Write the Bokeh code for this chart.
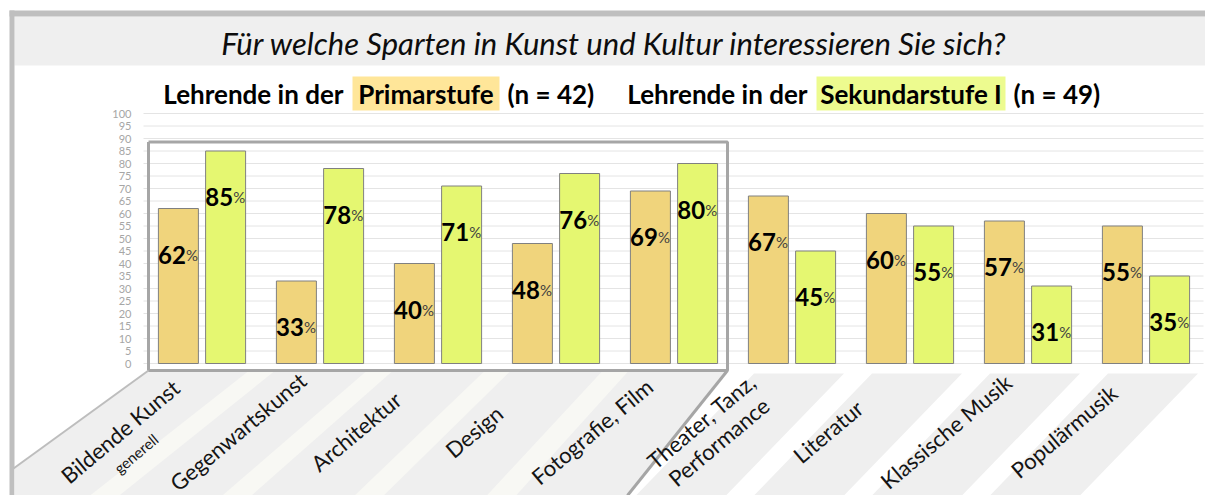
import math
from bokeh.plotting import figure
from bokeh.models import Range1d, LinearAxis, FixedTicker, ColumnDataSource
from bokeh.core.properties import value
from bokeh.embed import file_html
from bokeh.resources import INLINE

# ---------------- data ----------------
categories = ["Bildende Kunst", "Gegenwartskunst", "Architektur", "Design",
              "Fotografie, Film", "Theater, Tanz,\nPerformance", "Literatur",
              "Klassische Musik", "Populärmusik"]
sublabels = ["generell", "", "", "", "", "", "", "", ""]
primarstufe = [62, 33, 40, 48, 69, 67, 60, 57, 55]
sekundarstufe = [85, 78, 71, 76, 80, 45, 55, 31, 35]
y_ticks = list(range(0, 101, 5))
group_names = ["Primarstufe", "Sekundarstufe I"]
group_n = [42, 49]
legend_prefix = "Lehrende in der"
title_text = "Für welche Sparten in Kunst und Kultur interessieren Sie sich?"
n_framed = 5  # first categories inside the highlighted box

# ---------------- layout helpers ----------------
W, H = 1205, 495
CAT0, CAT_STEP = 201.5, 118.0   # px of category 0 centre, px per category
Y_ZERO, Y_UNIT = 363.0, 2.5     # px of value 0, px per percent


def X(px):
    return (px - CAT0) / CAT_STEP


def Y(py):
    return (Y_ZERO - py) / Y_UNIT


FONT = value("Lato")
ORANGE = "#f0d47c"
GREEN = "#e5f771"
HL_ORANGE = "#ffe699"
HL_GREEN = "#edfb8f"
BAND = "#efefef"
LIGHT = "#f8f8f4"
FRAME = "#a6a6a6"

p = figure(width=W, height=H, output_backend="svg", toolbar_location=None,
           x_range=Range1d(X(0), X(W)), y_range=Range1d(Y(H), Y(0)),
           x_axis_location=None, y_axis_location=None,
           min_border=0, min_border_left=0, min_border_right=0,
           min_border_top=0, min_border_bottom=0)
p.outline_line_color = None
p.xgrid.visible = False
p.ygrid.visible = False
p.background_fill_color = "white"
p.border_fill_color = "white"

# title band and outer frame
p.quad(left=X(14), right=X(W), top=Y(16), bottom=Y(65), fill_color=BAND, line_color=None)
p.quad(left=[X(9), X(9)], right=[X(W), X(14)], top=[Y(10), Y(10)], bottom=[Y(16), Y(H)],
       fill_color="#bfbfbf", line_color=None)

# floor of the highlighted box (perspective) with light stripes
fl_y0, fl_y1 = Y(371), Y(H)
p.patch(x=[X(147), X(727), X(627), X(14), X(14)],
        y=[fl_y0, fl_y0, fl_y1, fl_y1, Y(468)], fill_color=BAND, line_color=None)
vpx, vpy = 1554.0, -655.0
sx, sy = [], []
for i in range(n_framed - 1):
    b = CAT0 + CAT_STEP * (i + 0.5)
    xs_top = [b - 13, b + 13]
    xs_bot = [xt + (xt - vpx) / (371 - vpy) * (H - 371) for xt in xs_top]
    sx.append([X(xs_top[0]), X(xs_top[1]), X(xs_bot[1]), X(xs_bot[0])])
    sy.append([fl_y0, fl_y0, fl_y1, fl_y1])
p.patches(xs=sx, ys=sy, fill_color=LIGHT, line_color=None)

# bands under the remaining categories
bx, by = [], []
for i in range(n_framed, len(categories)):
    c = CAT0 + CAT_STEP * i
    top = [c - 38, c + 52]
    bx.append([X(top[0]), X(top[1]), X(top[1] - 118), X(top[0] - 118)])
    by.append([Y(373), Y(373), Y(H), Y(H)])
p.patches(xs=bx, ys=by, fill_color=BAND, line_color=None)

# gridlines
p.segment(x0=X(143), x1=X(1203), y0=y_ticks, y1=y_ticks, line_color="#e4e4e4", line_width=1)

# bars
idx = list(range(len(categories)))
src = ColumnDataSource(dict(
    xp=[i - 0.2 for i in idx], xs=[i + 0.2 for i in idx],
    p=primarstufe, s=sekundarstufe,
    lp=[str(v) for v in primarstufe], ls=[str(v) for v in sekundarstufe],
    yp=[v - 18.4 for v in primarstufe], ys=[v - 18.4 for v in sekundarstufe],
    xlp=[i - 0.2 + 0.064 for i in idx], xls=[i + 0.2 + 0.064 for i in idx],
    pct=["%"] * len(idx),
))
bw = 40 / CAT_STEP
p.vbar(x="xp", top="p", bottom=0, width=bw, source=src, fill_color=ORANGE,
       line_color="#808080", line_width=1)
p.vbar(x="xs", top="s", bottom=0, width=bw, source=src, fill_color=GREEN,
       line_color="#808080", line_width=1)

# highlighted box
fx0, fx1, fy0, fy1 = X(148), X(727), Y(141.5), Y(370)
p.line(x=[fx0, fx1, fx1, fx0, fx0], y=[fy0, fy0, fy1, fy1, fy0], line_color=FRAME, line_width=3)
p.line(x=[fx0, X(13)], y=[fy1, Y(468)], line_color="#bdbdbd", line_width=2)
p.line(x=[fx1, X(627)], y=[fy1, Y(H)], line_color=FRAME, line_width=3)

# value labels
for xcol, ycol, lcol in (("xlp", "yp", "lp"), ("xls", "ys", "ls")):
    p.text(x=xcol, y=ycol, text=lcol, source=src, text_font=FONT, text_font_style="bold",
           text_font_size="24px", text_align="right", text_baseline="alphabetic",
           text_color="#000000")
    p.text(x=xcol, y=ycol, text="pct", source=src, text_font=FONT,
           text_font_size="15px", text_align="left", text_baseline="alphabetic",
           text_color="#404040")

# category labels
ang = math.radians(40)
p.text(x=[i - 82 / CAT_STEP for i in idx], y=[Y(431)] * len(idx), text=categories,
       angle=ang, text_font=FONT, text_font_size="22px", text_align="center",
       text_baseline="middle", text_color="#141414", text_line_height=1.0)
sub_i = [i for i, s in enumerate(sublabels) if s]
p.text(x=[i - 66 / CAT_STEP for i in sub_i], y=[Y(453)] * len(sub_i),
       text=[sublabels[i] for i in sub_i], angle=ang, text_font=FONT,
       text_font_size="15px", text_align="center", text_baseline="middle",
       text_color="#141414")

# title
p.text(x=[X(613.5)], y=[Y(42)], text=[title_text], text_font=FONT,
       text_font_style="italic", text_font_size="31px", text_align="center",
       text_baseline="middle", text_color="#0d0d0d")

# legend row
boxes = [(352, 499), (816, 1005)]
hl_colors = [HL_ORANGE, HL_GREEN]
p.quad(left=[X(b[0]) for b in boxes], right=[X(b[1]) for b in boxes],
       top=Y(76), bottom=Y(110), fill_color=hl_colors, line_color=None)
ly = Y(93)
for (b0, b1), name, n in zip(boxes, group_names, group_n):
    p.text(x=[X(b0 - 9)], y=[ly], text=[legend_prefix], text_font=FONT, text_font_style="bold",
           text_font_size="26px", text_align="right", text_baseline="middle", text_color="#000000")
    p.text(x=[X((b0 + b1) / 2)], y=[ly], text=[name], text_font=FONT, text_font_style="bold",
           text_font_size="26px", text_align="center", text_baseline="middle", text_color="#000000")
    p.text(x=[X(b1 + 8)], y=[ly], text=[f"(n = {n})"], text_font=FONT, text_font_style="bold",
           text_font_size="26px", text_align="left", text_baseline="middle", text_color="#000000")

# y axis
yaxis = LinearAxis(fixed_location=X(143), ticker=FixedTicker(ticks=y_ticks))
yaxis.axis_line_color = None
yaxis.major_tick_line_color = None
yaxis.minor_tick_line_color = None
yaxis.major_label_standoff = 6
yaxis.major_label_text_font = "Lato"
yaxis.major_label_text_font_size = "11px"
yaxis.major_label_text_color = "#a6a6a6"
p.add_layout(yaxis, "left")

open("out.html", "w").write(file_html(p, INLINE))
